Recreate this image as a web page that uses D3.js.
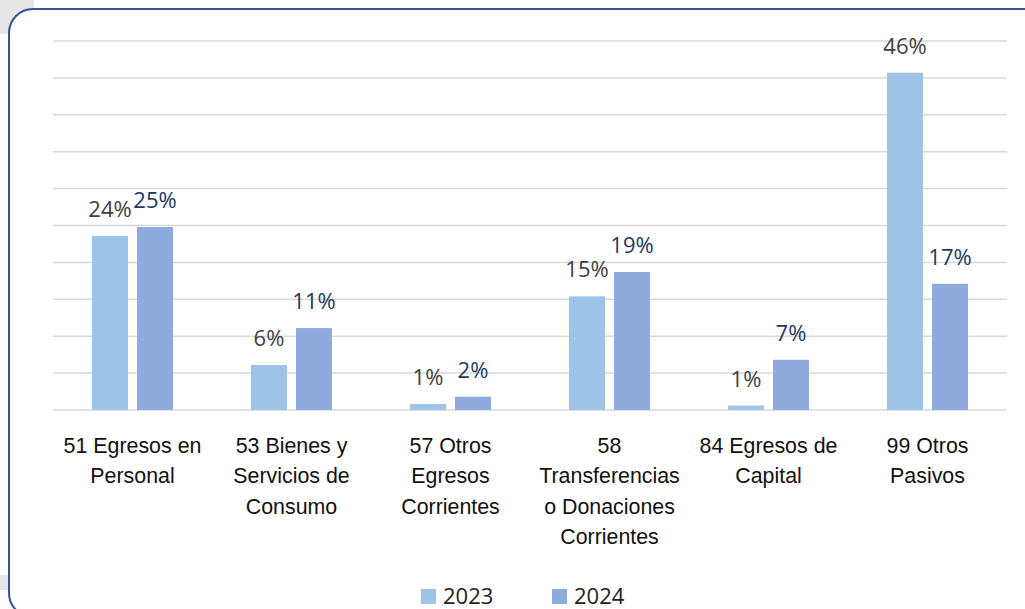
<!doctype html>
<html>
  <head>
    <script src="https://cdn.jsdelivr.net/npm/d3@7/dist/d3.min.js"></script>
    <style>
      body { margin: 0; background: #fff; }
      svg { display: block; }
    </style>
  </head>
  <body>
    <svg width="1025" height="609"></svg>

    <script type="text/javascript">

        // data
        var categories = [
            ["51 Egresos en", "Personal"],
            ["53 Bienes y", "Servicios de", "Consumo"],
            ["57 Otros", "Egresos", "Corrientes"],
            ["58", "Transferencias", "o Donaciones", "Corrientes"],
            ["84 Egresos de", "Capital"],
            ["99 Otros", "Pasivos"]
        ];
        var series = ["2023", "2024"];
        var values2023 = [0.236, 0.061, 0.008, 0.154, 0.006, 0.457];
        var values2024 = [0.248, 0.111, 0.018, 0.187, 0.068, 0.171];
        var yTicks = [0, 0.05, 0.10, 0.15, 0.20, 0.25, 0.30, 0.35, 0.40, 0.45, 0.50];

        var barColors = ["#9dc3e6", "#8faadc"];
        var labelColors = ["#404040", "#203864"];

        var svg = d3.select("svg");
        var width = +svg.attr("width"),
            height = +svg.attr("height");

        // gray bits outside the rounded frame
        svg.append("rect").attr("x", 0).attr("y", 0).attr("width", 34).attr("height", 34).attr("fill", "#e6e6e6");
        svg.append("rect").attr("x", 0).attr("y", 575).attr("width", 12).attr("height", 15).attr("fill", "#e6e6e6");

        // the frame
        svg.append("rect")
            .attr("x", 9).attr("y", 9)
            .attr("width", 1040).attr("height", 608)
            .attr("rx", 24).attr("ry", 24)
            .attr("fill", "#fff")
            .attr("stroke", "#2f5597")
            .attr("stroke-width", 2);

        var plotL = 53, plotR = 1007, plotT = 41, plotB = 410;

        var x0 = d3.scaleBand()
            .domain(d3.range(categories.length))
            .range([plotL, plotR])
            .padding(0);

        var groupW = 81;
        var x1 = d3.scaleBand()
            .domain(series)
            .range([0, groupW])
            .paddingInner(0.2)
            .paddingOuter(0);

        var y = d3.scaleLinear()
            .domain([0, 0.5])
            .range([plotB, plotT]);

        // gridlines
        svg.append("g")
            .selectAll("line")
            .data(yTicks)
            .join("line")
            .attr("x1", plotL).attr("x2", plotR)
            .attr("y1", d => y(d)).attr("y2", d => y(d))
            .attr("stroke", "#d9d9d9")
            .attr("stroke-width", 1.5);

        var rows = categories.map((c, i) => ({ i: i, vals: [values2023[i], values2024[i]] }));

        var groups = svg.append("g")
            .selectAll("g")
            .data(rows)
            .join("g")
            .attr("transform", d => `translate(${x0(d.i) + x0.bandwidth() / 2 - groupW / 2},0)`);

        groups.selectAll("rect")
            .data(d => d.vals.map((v, k) => ({ k: k, v: v })))
            .join("rect")
            .attr("x", d => x1(series[d.k]))
            .attr("width", x1.bandwidth())
            .attr("y", d => y(d.v))
            .attr("height", d => plotB - y(d.v))
            .attr("fill", d => barColors[d.k]);

        var fmt = d3.format(".0%");
        groups.selectAll("text")
            .data(d => d.vals.map((v, k) => ({ k: k, v: v })))
            .join("text")
            .attr("x", d => x1(series[d.k]) + x1.bandwidth() / 2)
            .attr("y", d => y(d.v) - 19)
            .attr("text-anchor", "middle")
            .attr("font-family", "'Open Sans', sans-serif")
            .attr("font-size", 22)
            .attr("fill", d => labelColors[d.k])
            .text(d => fmt(d.v));

        // category labels (condensed Arial look)
        var catLabels = svg.append("g")
            .selectAll("text")
            .data(categories)
            .join("text")
            .attr("transform", (d, i) => `translate(${x0(i) + x0.bandwidth() / 2},453) scale(0.93,1)`)
            .attr("text-anchor", "middle")
            .attr("font-family", "'Liberation Sans', Arial, sans-serif")
            .attr("font-size", 23)
            .attr("fill", "#111");

        catLabels.selectAll("tspan")
            .data(d => d)
            .join("tspan")
            .attr("x", 0)
            .attr("dy", (d, j) => j === 0 ? 0 : 30.3)
            .text(d => d);

        // legend
        var legendX = [421, 552];
        var legend = svg.append("g")
            .selectAll("g")
            .data(series)
            .join("g")
            .attr("transform", (d, i) => `translate(${legendX[i]},589)`);

        legend.append("rect")
            .attr("width", 15).attr("height", 15)
            .attr("fill", (d, i) => barColors[i]);

        legend.append("text")
            .attr("x", 22).attr("y", 15)
            .attr("font-family", "'Open Sans', sans-serif")
            .attr("font-size", 22)
            .attr("fill", "#222")
            .text(d => d);

    </script>
  </body>
</html>
